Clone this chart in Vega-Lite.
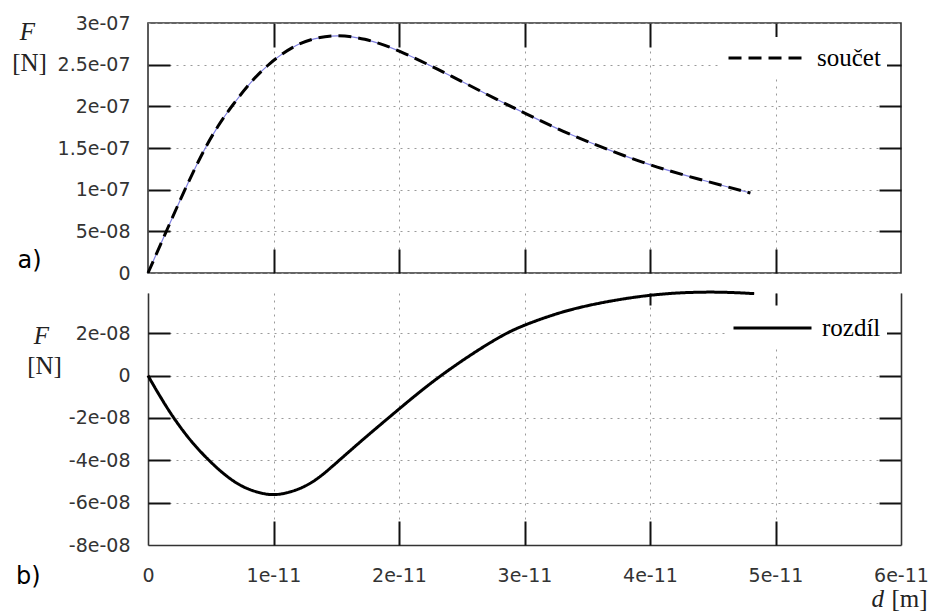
{
  "$schema": "https://vega.github.io/schema/vega-lite/v6.json",
  "padding": {"left": 10, "top": 13, "right": 2, "bottom": 0},
  "background": "white",
  "datasets": {
    "soucet": [
      {"d": 0, "F": 0, "series": "součet"},
      {"d": 1.46e-12, "F": 5.0e-8, "series": "součet"},
      {"d": 2.92e-12, "F": 1.0e-7, "series": "součet"},
      {"d": 4.52e-12, "F": 1.5e-7, "series": "součet"},
      {"d": 5.59e-12, "F": 1.77e-7, "series": "součet"},
      {"d": 6.65e-12, "F": 2.0e-7, "series": "součet"},
      {"d": 8.16e-12, "F": 2.29e-7, "series": "součet"},
      {"d": 9.52e-12, "F": 2.5e-7, "series": "součet"},
      {"d": 1.19e-11, "F": 2.77e-7, "series": "součet"},
      {"d": 1.466e-11, "F": 2.868e-7, "series": "součet"},
      {"d": 1.724e-11, "F": 2.82e-7, "series": "součet"},
      {"d": 2.0e-11, "F": 2.676e-7, "series": "součet"},
      {"d": 2.34e-11, "F": 2.42e-7, "series": "součet"},
      {"d": 2.5e-11, "F": 2.30e-7, "series": "součet"},
      {"d": 2.833e-11, "F": 2.04e-7, "series": "součet"},
      {"d": 3.0e-11, "F": 1.92e-7, "series": "součet"},
      {"d": 3.3e-11, "F": 1.70e-7, "series": "součet"},
      {"d": 3.63e-11, "F": 1.50e-7, "series": "součet"},
      {"d": 4.0e-11, "F": 1.29e-7, "series": "součet"},
      {"d": 4.4e-11, "F": 1.12e-7, "series": "součet"},
      {"d": 4.8e-11, "F": 0.96e-7, "series": "součet"}
    ],
    "rozdil": [
      {"d": 0, "F": 0, "series": "rozdíl"},
      {"d": 5.3e-13, "F": -0.55e-8, "series": "rozdíl"},
      {"d": 1.06e-12, "F": -1.08e-8, "series": "rozdíl"},
      {"d": 1.99e-12, "F": -1.97e-8, "series": "rozdíl"},
      {"d": 3.46e-12, "F": -3.15e-8, "series": "rozdíl"},
      {"d": 4.92e-12, "F": -4.05e-8, "series": "rozdíl"},
      {"d": 6.12e-12, "F": -4.70e-8, "series": "rozdíl"},
      {"d": 7.45e-12, "F": -5.25e-8, "series": "rozdíl"},
      {"d": 8.78e-12, "F": -5.53e-8, "series": "rozdíl"},
      {"d": 9.84e-12, "F": -5.65e-8, "series": "rozdíl"},
      {"d": 1.09e-11, "F": -5.58e-8, "series": "rozdíl"},
      {"d": 1.223e-11, "F": -5.33e-8, "series": "rozdíl"},
      {"d": 1.356e-11, "F": -4.88e-8, "series": "rozdíl"},
      {"d": 1.52e-11, "F": -4.02e-8, "series": "rozdíl"},
      {"d": 1.729e-11, "F": -2.93e-8, "series": "rozdíl"},
      {"d": 1.93e-11, "F": -1.93e-8, "series": "rozdíl"},
      {"d": 2.12e-11, "F": -0.98e-8, "series": "rozdíl"},
      {"d": 2.33e-11, "F": 0, "series": "rozdíl"},
      {"d": 2.607e-11, "F": 1.13e-8, "series": "rozdíl"},
      {"d": 2.85e-11, "F": 2.0e-8, "series": "rozdíl"},
      {"d": 3.0e-11, "F": 2.39e-8, "series": "rozdíl"},
      {"d": 3.2e-11, "F": 2.82e-8, "series": "rozdíl"},
      {"d": 3.4e-11, "F": 3.18e-8, "series": "rozdíl"},
      {"d": 3.7e-11, "F": 3.55e-8, "series": "rozdíl"},
      {"d": 4.0e-11, "F": 3.81e-8, "series": "rozdíl"},
      {"d": 4.25e-11, "F": 3.92e-8, "series": "rozdíl"},
      {"d": 4.47e-11, "F": 3.95e-8, "series": "rozdíl"},
      {"d": 4.65e-11, "F": 3.93e-8, "series": "rozdíl"},
      {"d": 4.83e-11, "F": 3.87e-8, "series": "rozdíl"}
    ]
  },
  "config": {
    "view": {"stroke": "#333", "strokeWidth": 1.6},
    "axis": {
      "labelFont": "DejaVu Sans", "labelFontSize": 19, "labelColor": "#333",
      "tickColor": "#111", "tickWidth": 2, "tickOpacity": 1,
      "gridColor": "#9a9a9a", "gridDash": [2, 5], "gridWidth": 1,
      "domain": false, "domainColor": "#333", "domainWidth": 1.6,
      "titleFont": "Liberation Serif", "titleFontSize": 25, "titleFontWeight": "normal", "titleColor": "#222",
      "labelFlush": false, "labelOverlap": false
    },
    "legend": {
      "orient": "top-right", "offset": 14, "padding": 6, "fillColor": "white",
      "labelFont": "Liberation Serif", "labelFontSize": 25, "labelColor": "#000",
      "symbolType": "stroke", "symbolSize": 6084, "symbolStrokeWidth": 3, "symbolStrokeColor": "#000",
      "clipHeight": 30, "labelOffset": 9
    }
  },
  "bounds": "flush",
  "spacing": 20,
  "resolve": {"scale": {"strokeDash": "independent"}, "legend": {"strokeDash": "independent"}},
  "vconcat": [
    {
      "width": 753, "height": 250,
      "data": {"name": "soucet"},
      "layer": [
        {
          "mark": {"type": "line", "color": "#7f7fe0", "strokeWidth": 1.2, "interpolate": "basis"},
          "encoding": {
            "x": {"field": "d", "type": "quantitative", "scale": {"domain": [0, 6e-11]},
              "axis": {"orient": "bottom", "values": [1e-11, 2e-11, 3e-11, 4e-11, 5e-11], "labels": false, "grid": true, "ticks": false, "tickSize": 0,
                "title": "a)", "titleFont": "DejaVu Sans", "titleFontSize": 24, "titleColor": "#000",
                "titleX": -119, "titleY": -13, "titleAlign": "center", "titleBaseline": "middle", "titleAngle": 0}},
            "y": {"field": "F", "type": "quantitative", "scale": {"domain": [0, 3e-7]},
              "axis": {"orient": "left", "values": [0, 5e-8, 1e-7, 1.5e-7, 2e-7, 2.5e-7, 3e-7], "grid": true, "ticks": false, "tickSize": 0, "labelPadding": 18,
                "labelExpr": "datum.value == 0 ? '0' : replace(replace(format(datum.value, '~e'), 'e-', 'e-0'), '−', '-')",
                "title": "[N]", "titleAngle": 0, "titleX": -119, "titleY": 39, "titleAlign": "center", "titleBaseline": "middle"}}
          }
        },
        {
          "mark": {"type": "line", "color": "#000", "strokeWidth": 3, "interpolate": "basis"},
          "encoding": {
            "x": {"field": "d", "type": "quantitative", "scale": {"domain": [0, 6e-11]},
              "axis": {"orient": "top", "offset": -250, "values": [1e-11, 2e-11, 3e-11, 4e-11, 5e-11], "labels": false, "grid": false, "ticks": true, "tickSize": 24, "title": null}},
            "y": {"field": "F", "type": "quantitative", "scale": {"domain": [0, 3e-7]},
              "axis": {"orient": "right", "offset": -753, "values": [5e-8, 1e-7, 1.5e-7, 2e-7, 2.5e-7], "labels": false, "grid": false, "ticks": true, "tickSize": 22,
                "title": "F", "titleFontStyle": "italic", "titleAngle": 0, "titleX": -121, "titleY": 8, "titleAlign": "center", "titleBaseline": "middle"}},
            "strokeDash": {"field": "series", "type": "nominal", "scale": {"range": [[13, 7]]}, "legend": {"title": null}}
          }
        },
        {
          "mark": {"type": "line", "strokeOpacity": 0, "strokeWidth": 1},
          "encoding": {
            "x": {"field": "d", "type": "quantitative", "scale": {"domain": [0, 6e-11]},
              "axis": {"orient": "bottom", "offset": -250, "values": [1e-11, 2e-11, 3e-11, 4e-11, 5e-11], "labels": false, "grid": false, "ticks": true, "tickSize": 24, "title": null}},
            "y": {"field": "F", "type": "quantitative", "scale": {"domain": [0, 3e-7]},
              "axis": {"orient": "left", "offset": -753, "values": [5e-8, 1e-7, 1.5e-7, 2e-7, 2.5e-7], "labels": false, "grid": false, "ticks": true, "tickSize": 22, "title": null}}
          }
        }
      ],
      "resolve": {"axis": {"x": "independent", "y": "independent"}}
    },
    {
      "width": 753, "height": 252,
      "view": {"stroke": null},
      "data": {"name": "rozdil"},
      "title": {"text": "b)", "orient": "bottom", "anchor": "start", "frame": "group", "font": "DejaVu Sans", "fontSize": 24, "fontWeight": "normal", "color": "#000", "dx": -132, "dy": -50},
      "layer": [
        {
          "mark": {"type": "line", "color": "#e05050", "strokeWidth": 1.2, "interpolate": "basis"},
          "encoding": {
            "x": {"field": "d", "type": "quantitative", "scale": {"domain": [0, 6e-11]},
              "axis": {"orient": "bottom", "values": [0, 1e-11, 2e-11, 3e-11, 4e-11, 5e-11, 6e-11], "grid": true, "domain": true, "ticks": false, "tickSize": 0, "labelPadding": 21,
                "labelExpr": "datum.value == 0 ? '0' : format(datum.value, '~e')",
                "title": "[m]", "titleX": 743, "titleY": 61, "titleAlign": "left", "titleBaseline": "alphabetic", "titleAngle": 0}},
            "y": {"field": "F", "type": "quantitative", "scale": {"domain": [-8e-8, 3.9e-8]},
              "axis": {"orient": "left", "values": [-8e-8, -6e-8, -4e-8, -2e-8, 0, 2e-8], "grid": true, "domain": true, "ticks": false, "tickSize": 0, "labelPadding": 18,
                "labelExpr": "datum.value == 0 ? '0' : replace(replace(format(datum.value, '~e'), 'e-', 'e-0'), '−', '-')",
                "title": "[N]", "titleAngle": 0, "titleX": -104, "titleY": 72, "titleAlign": "center", "titleBaseline": "middle"}}
          }
        },
        {
          "mark": {"type": "line", "color": "#000", "strokeWidth": 3, "interpolate": "basis"},
          "encoding": {
            "x": {"field": "d", "type": "quantitative", "scale": {"domain": [0, 6e-11]},
              "axis": {"orient": "top", "offset": -252, "values": [1e-11, 2e-11, 3e-11, 4e-11, 5e-11], "labels": false, "grid": false, "ticks": true, "tickSize": 24,
                "title": "d", "titleFontStyle": "italic", "titleX": 723, "titleY": 61, "titleAlign": "left", "titleBaseline": "alphabetic", "titleAngle": 0}},
            "y": {"field": "F", "type": "quantitative", "scale": {"domain": [-8e-8, 3.9e-8]},
              "axis": {"orient": "right", "offset": -753, "values": [-6e-8, -4e-8, -2e-8, 0, 2e-8], "labels": false, "grid": false, "ticks": true, "tickSize": 22,
                "title": "F", "titleFontStyle": "italic", "titleAngle": 0, "titleX": -107, "titleY": 42, "titleAlign": "center", "titleBaseline": "middle"}},
            "strokeDash": {"field": "series", "type": "nominal", "scale": {"range": [[1, 0]]}, "legend": {"title": null}}
          }
        },
        {
          "mark": {"type": "line", "strokeOpacity": 0, "strokeWidth": 1},
          "encoding": {
            "x": {"field": "d", "type": "quantitative", "scale": {"domain": [0, 6e-11]},
              "axis": {"orient": "bottom", "offset": -252, "values": [4e-11, 5e-11], "labels": false, "grid": false, "ticks": true, "tickSize": 12, "title": null}},
            "y": {"field": "F", "type": "quantitative", "scale": {"domain": [-8e-8, 3.9e-8]},
              "axis": {"orient": "left", "offset": -753, "values": [-6e-8, -4e-8, -2e-8, 0, 2e-8], "labels": false, "grid": false, "domain": true, "ticks": true, "tickSize": 22, "title": null}}
          }
        }
      ],
      "resolve": {"axis": {"x": "independent", "y": "independent"}}
    }
  ]
}
